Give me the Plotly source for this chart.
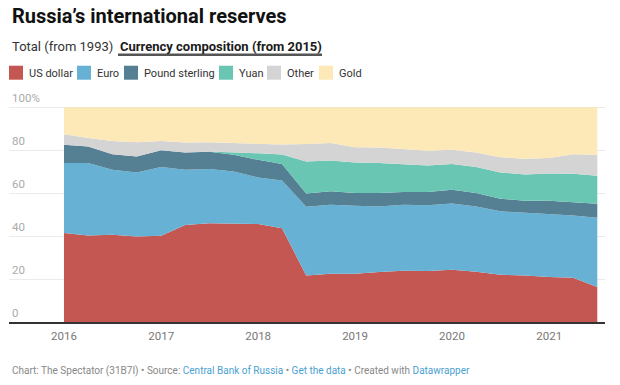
import plotly.graph_objects as go

# ---- data (share of reserves, %) ----
dates = ["2016-01-01", "2016-04-01", "2016-07-01", "2016-10-01",
         "2017-01-01", "2017-04-01", "2017-07-01", "2017-10-01",
         "2018-01-01", "2018-04-01", "2018-07-01", "2018-10-01",
         "2019-01-01", "2019-04-01", "2019-07-01", "2019-10-01",
         "2020-01-01", "2020-04-01", "2020-07-01", "2020-10-01",
         "2021-01-01", "2021-04-01", "2021-07-01"]
us_dollar = [41.4, 40.3, 40.6, 39.8, 40.2, 45.1, 46.0, 45.7, 45.6, 43.6, 21.7, 22.5,
             22.5, 23.3, 23.9, 23.7, 24.3, 23.4, 22.0, 21.7, 20.9, 20.6, 16.3]
euro = [32.6, 33.7, 30.3, 29.8, 32.0, 25.8, 25.2, 24.4, 21.7, 22.3, 31.9, 32.1,
        31.6, 30.5, 30.7, 30.6, 30.9, 30.4, 29.5, 29.2, 29.3, 29.0, 32.2]
pound = [8.5, 7.7, 7.2, 7.5, 7.8, 8.0, 8.1, 7.7, 8.2, 7.6, 6.2, 6.3,
         5.9, 6.2, 5.9, 6.2, 6.4, 6.2, 5.9, 5.5, 6.2, 6.2, 6.5]
yuan = [0.0, 0.0, 0.0, 0.0, 0.0, 0.0, 0.1, 1.0, 3.0, 4.5, 14.9, 14.3,
        14.3, 14.0, 12.8, 12.4, 12.0, 12.1, 12.2, 12.3, 12.7, 13.2, 13.1]
other = [4.9, 3.9, 6.2, 6.6, 4.3, 4.7, 4.3, 4.5, 4.3, 4.6, 8.2, 8.1,
         7.1, 7.2, 7.2, 6.8, 6.6, 6.8, 7.1, 7.3, 7.2, 9.1, 9.7]
gold = [12.6, 14.4, 15.7, 16.3, 15.7, 16.4, 16.3, 16.7, 17.2, 17.4, 17.1, 16.7,
        18.6, 18.8, 19.5, 20.3, 19.8, 21.1, 23.3, 24.0, 23.7, 21.9, 22.2]

series_names = ["US dollar", "Euro", "Pound sterling", "Yuan", "Other", "Gold"]
series_values = [us_dollar, euro, pound, yuan, other, gold]
series_colors = ["#c55753", "#66b1d4", "#558093", "#68c6b3", "#d4d4d4", "#fde9b8"]

y_tickvals = [0, 20, 40, 60, 80, 100]
y_ticktext = ["0", "20", "40", "60", "80", "100%"]
x_tickvals = ["2016-01-01", "2017-01-01", "2018-01-01", "2019-01-01", "2020-01-01", "2021-01-01"]
x_ticktext = ["2016", "2017", "2018", "2019", "2020", "2021"]

# page layout (body margin removed via post_script)
W, H = 620, 385
Y_TOP = 108                    # y-axis range top (value)
PLOT_L, PLOT_R = 9, 605        # px
PLOT_B = 322                   # px for value 0
PX_PER_UNIT = 2.15
PLOT_T = PLOT_B - Y_TOP * PX_PER_UNIT
ML, MR = PLOT_L, W - PLOT_R
MT, MB = PLOT_T, H - PLOT_B
PW, PH = W - ML - MR, H - MT - MB
FONT = "Roboto"


def px(x):
    return (x - PLOT_L) / PW


def py(y):
    return (PLOT_B - y) / PH


fig = go.Figure()
for name, vals, col in zip(series_names, series_values, series_colors):
    fig.add_trace(go.Scatter(
        x=dates, y=vals, name=name, mode="lines", stackgroup="one",
        line=dict(width=0, color=col), fillcolor=col, showlegend=False,
        hoverinfo="skip"))

annotations = []
shapes = []

# title & tabs
annotations.append(dict(text="<b>Russia’s international reserves</b>", x=px(10), y=py(16),
                        xref="paper", yref="paper", xanchor="left", yanchor="middle",
                        showarrow=False, font=dict(family=FONT, size=20, color="#111111")))
annotations.append(dict(text="Total (from 1993)", x=px(10), y=py(46.5),
                        xref="paper", yref="paper", xanchor="left", yanchor="middle",
                        showarrow=False, font=dict(family=FONT, size=13, color="#333333")))
annotations.append(dict(text="<b>Currency composition (from 2015)</b>", x=px(118), y=py(46.5),
                        xref="paper", yref="paper", xanchor="left", yanchor="middle",
                        showarrow=False, font=dict(family=FONT, size=13, color="#1a1a1a")))
shapes.append(dict(type="line", xref="paper", yref="paper", x0=px(118), x1=px(322),
                   y0=py(54.5), y1=py(54.5), line=dict(color="#555555", width=2.5)))

# custom legend
sq_x = [9, 77, 124, 219, 267, 319]
lab_x = [27, 95, 142, 237, 285, 337]
for name, col, sx, lx in zip(series_names, series_colors, sq_x, lab_x):
    shapes.append(dict(type="rect", xref="paper", yref="paper",
                       x0=px(sx), x1=px(sx + 14), y0=py(79.5), y1=py(65.5),
                       fillcolor=col, line=dict(width=0)))
    annotations.append(dict(text=name, x=px(lx), y=py(73), xref="paper", yref="paper",
                            xanchor="left", yanchor="middle", showarrow=False,
                            font=dict(family=FONT, size=11, color="#333333")))

# footer
link = "#4a9fd1"
footer = ("Chart: The Spectator (31B7I) • Source: "
          f"<span style='color:{link}'>Central Bank of Russia</span> • "
          f"<span style='color:{link}'>Get the data</span> • Created with "
          f"<span style='color:{link}'>Datawrapper</span>")
annotations.append(dict(text=footer, x=px(10), y=py(371), xref="paper", yref="paper",
                        xanchor="left", yanchor="middle", showarrow=False,
                        font=dict(family=FONT, size=10, color="#888888")))

fig.update_layout(
    width=W, height=H,
    margin=dict(l=ML, r=MR, t=MT, b=MB, pad=0),
    paper_bgcolor="white", plot_bgcolor="white",
    font=dict(family=FONT),
    hovermode=False,
    xaxis=dict(type="date", range=["2015-06-08", "2021-07-30"],
               tickvals=x_tickvals, ticktext=x_ticktext, showgrid=False,
               showline=True, linecolor="#333333", linewidth=1.5,
               ticks="", ticklabelstandoff=3,
               tickfont=dict(family=FONT, size=11.5, color="#777777"),
               zeroline=False, fixedrange=True),
    yaxis=dict(range=[0, Y_TOP], tickvals=y_tickvals, ticktext=y_ticktext,
               showgrid=True, gridcolor="#ebebeb", gridwidth=1,
               zeroline=False, ticks="", ticklabelposition="inside top",
               ticklabelshift=-1,
               tickfont=dict(family=FONT, size=11.5, color="#aaaaaa"),
               fixedrange=True),
    annotations=annotations, shapes=shapes,
)

fig.write_html("out.html",
               config={"displayModeBar": False, "staticPlot": True},
               post_script="document.body.style.margin='0px';document.body.style.overflow='hidden';")
